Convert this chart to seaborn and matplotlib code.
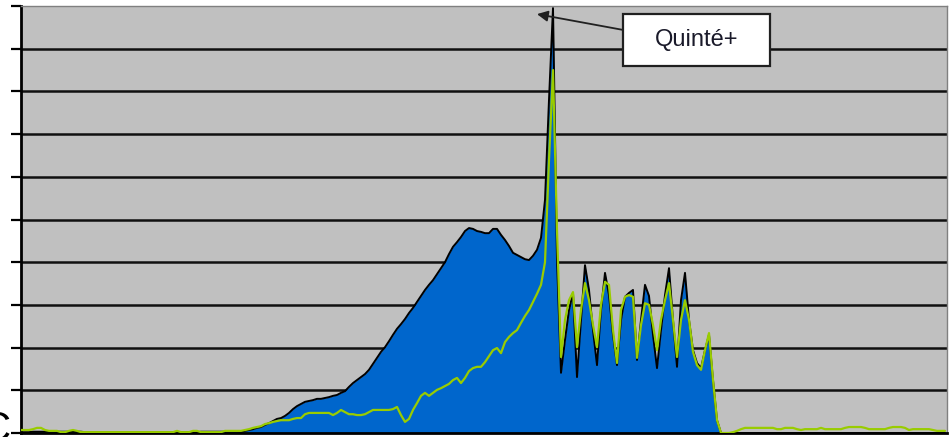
import numpy as np
import matplotlib
matplotlib.use("Agg")
import matplotlib.pyplot as plt
from matplotlib.patches import Rectangle
import seaborn as sns

# Total bet volume per sample (blue area) and Quinté+ volume (green line)
total_volume = [
    0.02, 0.02, 0.02, 0.03, 0.03, 0.03, 0.03, 0.03, 0.03, 0.03,
    0.03, 0.03, 0.03, 0.03, 0.03, 0.03, 0.02, 0.02, 0.02, 0.02,
    0.02, 0.02, 0.02, 0.02, 0.02, 0.02, 0.02, 0.02, 0.02, 0.02,
    0.02, 0.02, 0.02, 0.02, 0.02, 0.02, 0.02, 0.02, 0.02, 0.02,
    0.02, 0.02, 0.02, 0.02, 0.02, 0.03, 0.03, 0.03, 0.03, 0.03,
    0.03, 0.03, 0.03, 0.03, 0.03, 0.02, 0.05, 0.07, 0.09, 0.12,
    0.14, 0.19, 0.23, 0.28, 0.33, 0.35, 0.40, 0.47, 0.56, 0.63,
    0.68, 0.73, 0.75, 0.77, 0.80, 0.80, 0.82, 0.84, 0.87, 0.89,
    0.94, 0.98, 1.08, 1.17, 1.24, 1.31, 1.38, 1.48, 1.62, 1.76,
    1.90, 2.01, 2.15, 2.30, 2.44, 2.55, 2.67, 2.81, 2.93, 3.07,
    3.21, 3.35, 3.47, 3.58, 3.72, 3.86, 4.00, 4.19, 4.36, 4.47,
    4.59, 4.73, 4.80, 4.78, 4.73, 4.71, 4.68, 4.68, 4.78, 4.78,
    4.64, 4.52, 4.38, 4.22, 4.17, 4.12, 4.07, 4.05, 4.15, 4.29,
    4.57, 5.46, 7.80, 9.95, 4.05, 1.41, 2.18, 2.88, 3.28, 1.31,
    2.65, 3.93, 3.35, 2.41, 1.59, 2.88, 3.75, 3.23, 2.30, 1.59,
    2.65, 3.19, 3.28, 3.35, 1.71, 2.65, 3.47, 3.21, 2.30, 1.52,
    2.41, 3.23, 3.86, 2.65, 1.55, 3.11, 3.75, 2.65, 1.94, 1.64,
    1.52, 1.94, 2.30, 1.24, 0.30, 0.00, 0.00, 0.00, 0.00, 0.00,
    0.00, 0.00, 0.00, 0.00, 0.00, 0.00, 0.00, 0.00, 0.00, 0.00,
    0.00, 0.00, 0.00, 0.00, 0.00, 0.00, 0.00, 0.00, 0.00, 0.00,
    0.00, 0.00, 0.00, 0.00, 0.00, 0.00, 0.00, 0.00, 0.00, 0.00,
    0.00, 0.00, 0.00, 0.00, 0.00, 0.00, 0.00, 0.00, 0.00, 0.00,
    0.00, 0.00, 0.00, 0.00, 0.00, 0.00, 0.00, 0.00, 0.00, 0.00,
    0.00, 0.00,
]

quinte_volume = [
    0.07, 0.07, 0.07, 0.09, 0.12, 0.12, 0.07, 0.05, 0.05, 0.05,
    0.02, 0.02, 0.05, 0.07, 0.05, 0.02, 0.02, 0.02, 0.02, 0.02,
    0.02, 0.02, 0.02, 0.02, 0.02, 0.02, 0.02, 0.02, 0.02, 0.02,
    0.02, 0.02, 0.02, 0.02, 0.02, 0.02, 0.02, 0.02, 0.02, 0.05,
    0.02, 0.02, 0.02, 0.05, 0.05, 0.02, 0.02, 0.02, 0.02, 0.02,
    0.02, 0.05, 0.05, 0.05, 0.05, 0.05, 0.07, 0.09, 0.12, 0.14,
    0.16, 0.21, 0.23, 0.26, 0.28, 0.30, 0.30, 0.30, 0.33, 0.35,
    0.35, 0.44, 0.47, 0.47, 0.47, 0.47, 0.47, 0.47, 0.42, 0.47,
    0.54, 0.49, 0.44, 0.44, 0.42, 0.42, 0.44, 0.49, 0.54, 0.54,
    0.54, 0.54, 0.54, 0.56, 0.61, 0.42, 0.26, 0.33, 0.54, 0.70,
    0.87, 0.94, 0.87, 0.94, 1.01, 1.05, 1.10, 1.15, 1.24, 1.29,
    1.17, 1.29, 1.45, 1.52, 1.55, 1.55, 1.66, 1.80, 1.94, 1.99,
    1.87, 2.13, 2.25, 2.34, 2.41, 2.58, 2.74, 2.88, 3.07, 3.26,
    3.47, 4.00, 6.39, 8.50, 4.75, 1.78, 2.65, 3.11, 3.30, 2.01,
    2.88, 3.51, 3.11, 2.53, 2.01, 3.00, 3.54, 3.47, 2.41, 1.64,
    2.88, 3.19, 3.23, 3.19, 1.76, 2.53, 3.04, 3.00, 2.53, 1.94,
    2.65, 3.11, 3.51, 2.65, 1.78, 2.65, 3.11, 2.65, 1.90, 1.59,
    1.48, 1.94, 2.34, 1.24, 0.30, 0.00, 0.00, 0.00, 0.02, 0.05,
    0.09, 0.12, 0.12, 0.12, 0.12, 0.12, 0.12, 0.12, 0.12, 0.09,
    0.09, 0.12, 0.12, 0.12, 0.09, 0.07, 0.09, 0.09, 0.09, 0.09,
    0.12, 0.09, 0.09, 0.09, 0.09, 0.09, 0.12, 0.14, 0.14, 0.14,
    0.14, 0.12, 0.09, 0.09, 0.09, 0.09, 0.09, 0.12, 0.14, 0.14,
    0.14, 0.12, 0.07, 0.09, 0.09, 0.09, 0.09, 0.09, 0.07, 0.05,
    0.05, 0.05,
]

y_ticks = [0, 1, 2, 3, 4, 5, 6, 7, 8, 9, 10]
annotation_label = "Quinté+"

samples = np.arange(len(total_volume))

sns.set_theme(style="white")
plt.rcParams["font.family"] = ["Liberation Sans", "DejaVu Sans"]

fig = plt.figure(figsize=(9.49, 4.37), dpi=100)
fig.patch.set_facecolor("white")
ax = fig.add_axes([21 / 949, 1 - 433 / 437, 926 / 949, 427 / 437])
ax.set_facecolor("#C0C0C0")

# horizontal grid lines
for t in y_ticks[1:-1]:
    ax.axhline(t, color="#101010", lw=1.8, zorder=1)

ax.fill_between(samples, total_volume, 0, color="#0066CC", lw=0, zorder=2)
sns.lineplot(x=samples, y=total_volume, color="black", lw=1.4, ax=ax, zorder=3)
sns.lineplot(x=samples, y=quinte_volume, color="#99CC00", lw=1.6, ax=ax, zorder=4)

ax.set_xlim(0, 231.5)
ax.set_ylim(0, 10)
ax.set_yticks(y_ticks)
ax.set_yticklabels([])
ax.set_xticks([])
ax.set_xlabel("")
ax.set_ylabel("")
ax.tick_params(axis="y", direction="out", length=7, width=1.6, color="black", left=True)

ax.spines["left"].set_color("black")
ax.spines["left"].set_linewidth(2)
ax.spines["bottom"].set_color("black")
ax.spines["bottom"].set_linewidth(2)
for s in ("top", "right"):
    ax.spines[s].set_color("#808080")
    ax.spines[s].set_linewidth(1)

# callout box with arrow pointing at the peak
box = Rectangle((150.5, 8.59), 36.75, 1.22, facecolor="white", edgecolor="#202020",
                lw=1.6, zorder=6)
ax.add_patch(box)
ax.text(168.9, 9.2, annotation_label, ha="center", va="center", fontsize=17,
        color="#1a1a2a", zorder=7)
ax.annotate("", xy=(129, 9.81), xytext=(150.5, 9.44),
            arrowprops=dict(arrowstyle="-|>", color="#202020", lw=1.3,
                            mutation_scale=16, shrinkA=0, shrinkB=0),
            zorder=6)

# partial letter at the lower-left edge of the slide
fig.text(-0.02, -0.01, "C", fontsize=30, color="black", ha="left", va="baseline")

fig.savefig("out.png", dpi=100, facecolor="white")
